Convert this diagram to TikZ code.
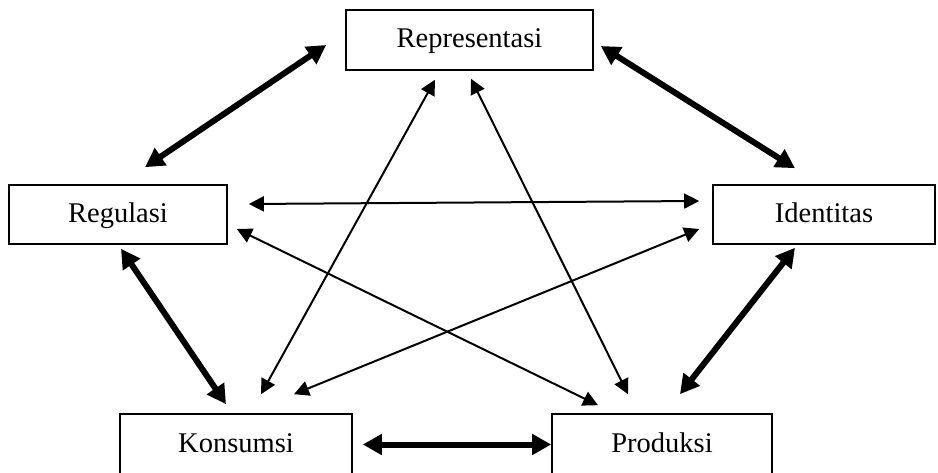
\documentclass[tikz,border=0pt]{standalone}
\usepackage{fontspec}
\setmainfont{Liberation Serif}
\usepackage{tikz}
\usetikzlibrary{calc,shapes,positioning}
\usetikzlibrary{arrows.meta}

\begin{document}
\begin{tikzpicture}[x=1pt,y=-1pt]
      \tikzstyle{bnode} = [draw, line width=1.6pt, rectangle, inner sep=0pt, minimum height=59pt, text height=21pt, text depth=5pt, font=\fontsize{28.5}{34}\selectfont]
      \tikzstyle{tarrow} = [line width=6pt, {Triangle[length=19pt,width=20pt]}-{Triangle[length=19pt,width=20pt]}]
      \tikzstyle{farrow} = [line width=2pt, {Triangle[length=15pt,width=15pt]}-{Triangle[length=15pt,width=15pt]}]

      \clip (0,0) rectangle (938,473);

      \node[bnode, minimum width=247pt, minimum height=60pt] (rep) at (469.5,40) {Representasi};
      \node[bnode, minimum width=218pt] (reg) at (118,214.5) {Regulasi};
      \node[bnode, minimum width=222pt] (ident) at (824,214.5) {Identitas};
      \node[bnode, minimum width=232pt, minimum height=61pt] (kons) at (236,444.5) {Konsumsi};
      \node[bnode, minimum width=220pt, minimum height=61pt] (prod) at (662,444.5) {Produksi};

      % thick arrows round the pentagon
      \draw[tarrow] ([shift={(-19,5)}]rep.west) -- ([shift={(27,-17)}]reg.north);
      \draw[tarrow] ([shift={(7,6)}]rep.east) -- ([shift={(-29,-16)}]ident.north);
      \draw[tarrow] ([shift={(3,4)}]reg.south) -- ([shift={(-10,-9)}]kons.north);
      \draw[tarrow] ([shift={(-29,3)}]ident.south) -- ([shift={(18,-19)}]prod.north);
      \draw[tarrow] ([shift={(10,0)}]kons.east) -- (prod.west);

      % thin arrows across
      \draw[farrow] ([shift={(21,-10.5)}]reg.east) -- ([shift={(-13,-13.5)}]ident.west);
      \draw[farrow] ([shift={(9,14.5)}]reg.east) -- ([shift={(-64,-8)}]prod.north);
      \draw[farrow] ([shift={(-13,14.5)}]ident.west) -- ([shift={(58,-19)}]kons.north);
      \draw[farrow] ([shift={(-34.5,9)}]rep.south) -- ([shift={(25,-19)}]kons.north);
      \draw[farrow] ([shift={(1.5,8)}]rep.south) -- ([shift={(-34,-19)}]prod.north);
    \end{tikzpicture}
\end{document}
